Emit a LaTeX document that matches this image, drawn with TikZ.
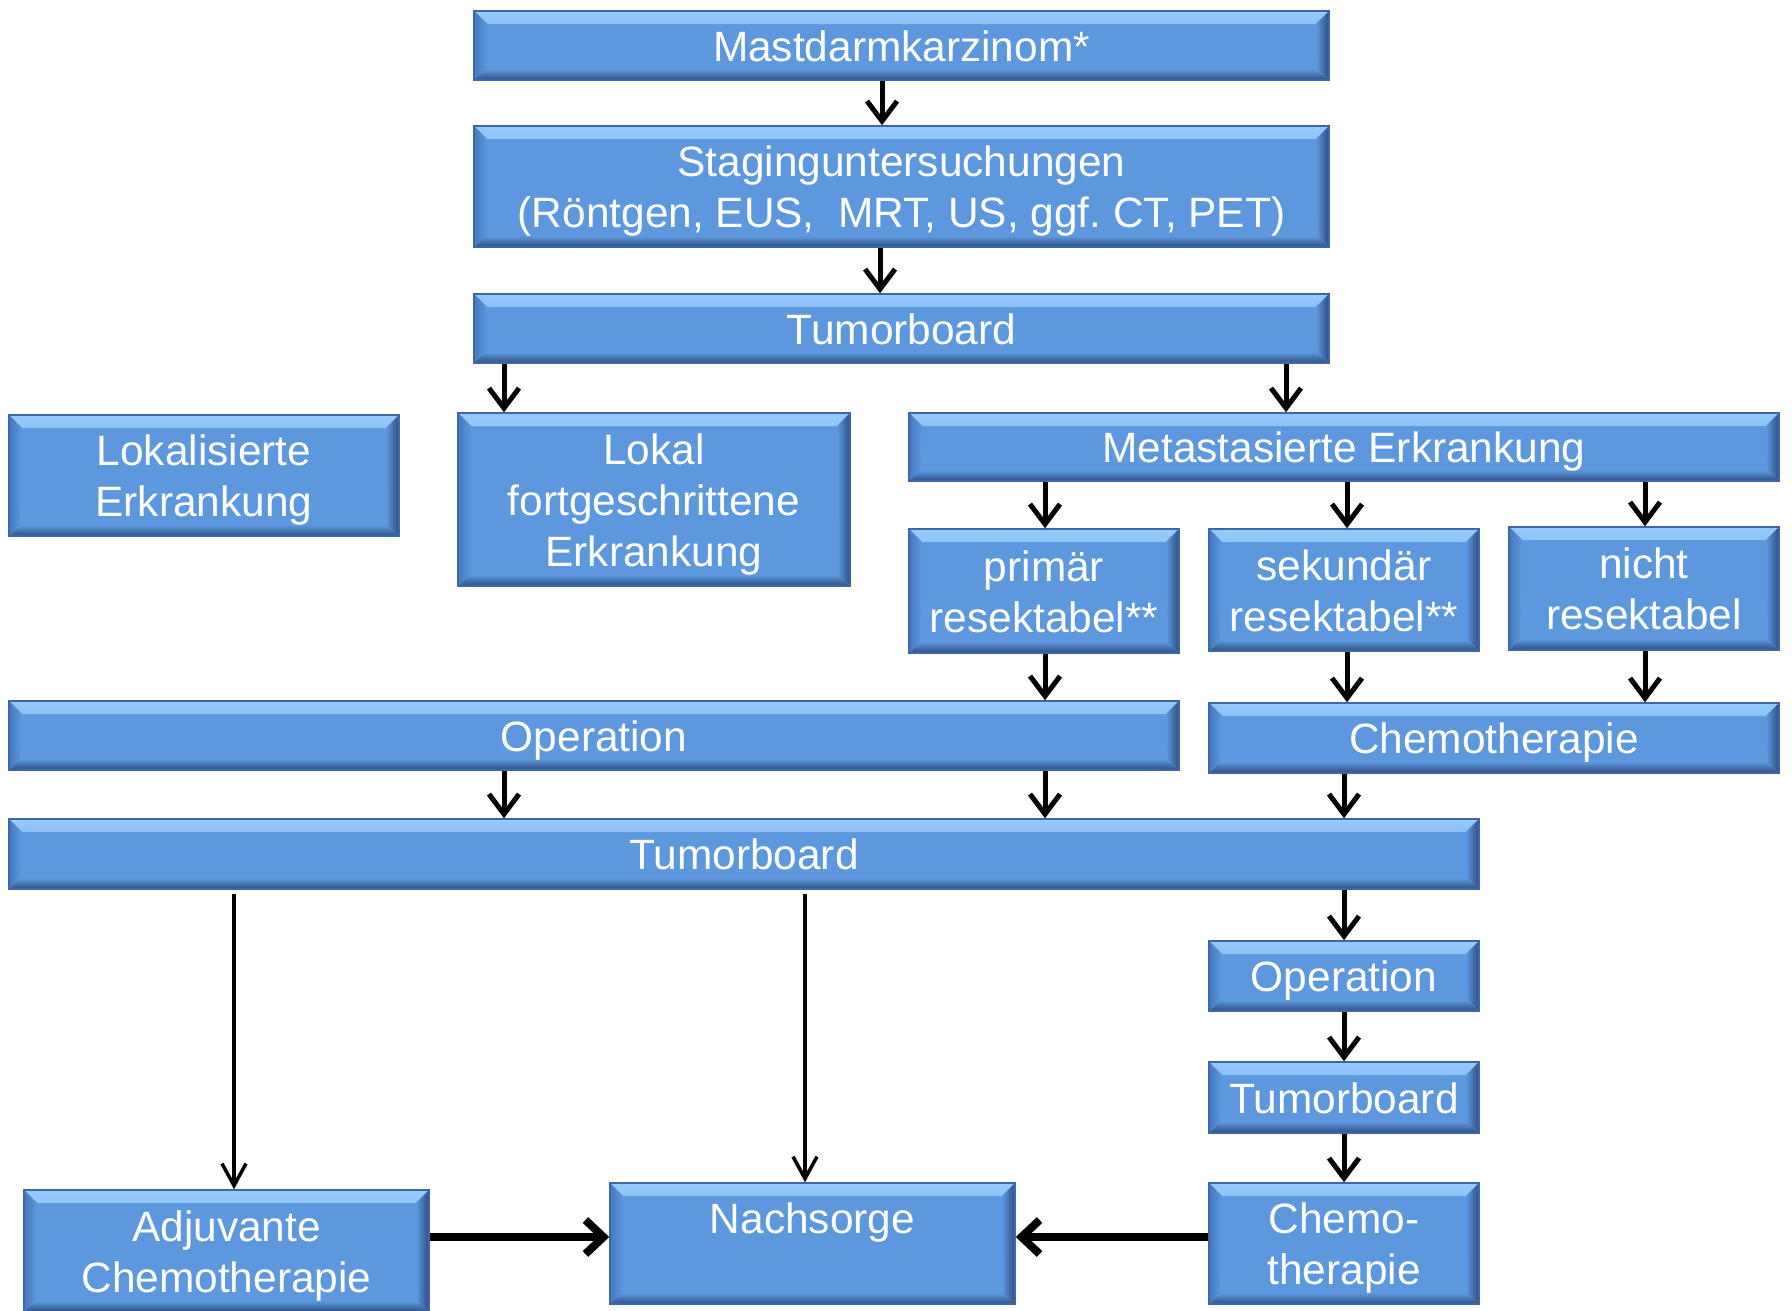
\documentclass[tikz,border=0pt]{standalone}
\usepackage{fontspec}
\setmainfont{Liberation Sans}
\usepackage{tikz}
\usetikzlibrary{arrows.meta}
\frenchspacing

\definecolor{boxblue}{RGB}{93,152,222}
\definecolor{bevlight}{RGB}{150,202,252}
\definecolor{bevside}{RGB}{70,120,190}
\definecolor{bevdark}{RGB}{45,78,130}
\definecolor{boxedge}{RGB}{62,104,165}

% gleiche Zeilenhoehe fuer alle Kaesten
\newcommand{\zs}{\rule[-9pt]{0pt}{49pt}}

\begin{document}
\begin{tikzpicture}[x=1pt, y=-1pt,
    kasten/.style={draw=boxedge, line width=1.5pt, fill=boxblue, text=white,
        inner sep=0pt, align=center, font=\fontsize{42.4}{51}\selectfont,
        path picture={
            \fill[top color=bevlight, bottom color=boxblue]
                (path picture bounding box.north west) -- (path picture bounding box.north east)
                -- ([xshift=-13pt,yshift=-13pt]path picture bounding box.north east)
                -- ([xshift=13pt,yshift=-13pt]path picture bounding box.north west) -- cycle;
            \fill[top color=boxblue, bottom color=bevdark]
                (path picture bounding box.south west) -- (path picture bounding box.south east)
                -- ([xshift=-11pt,yshift=11pt]path picture bounding box.south east)
                -- ([xshift=11pt,yshift=11pt]path picture bounding box.south west) -- cycle;
            \fill[left color=bevside, right color=boxblue]
                (path picture bounding box.north west) -- ([xshift=13pt,yshift=-13pt]path picture bounding box.north west)
                -- ([xshift=11pt,yshift=11pt]path picture bounding box.south west)
                -- (path picture bounding box.south west) -- cycle;
            \fill[left color=boxblue, right color=bevdark]
                (path picture bounding box.north east) -- ([xshift=-13pt,yshift=-13pt]path picture bounding box.north east)
                -- ([xshift=-11pt,yshift=11pt]path picture bounding box.south east)
                -- (path picture bounding box.south east) -- cycle;
        }},
    pfeil/.style={line width=5pt, -{Straight Barb[length=20pt, width=30pt]}},
    langpfeil/.style={line width=3.5pt, -{Straight Barb[length=22pt, width=24pt]}},
    querpfeil/.style={line width=8pt, -{Straight Barb[length=18pt, width=34pt]}}]
    \useasboundingbox (0, 0) rectangle (1792, 1310);

    % obere Reihe
    \node[kasten, minimum width=855pt, minimum height=69pt] (mastdarm) at (901.5, 45.5) {\zs Mastdarmkarzinom*\zs};
    \node[kasten, minimum width=855pt, minimum height=121pt] (staging) at (901.5, 186.5) {\zs Staginguntersuchungen\\(Röntgen, EUS,\ \ MRT, US, ggf. CT, PET)\zs};
    \node[kasten, minimum width=855pt, minimum height=69pt] (tbA) at (901.5, 328.5) {\zs Tumorboard\zs};

    % Stadien
    \node[kasten, minimum width=390pt, minimum height=121pt] (lokalis) at (204, 475.5) {\zs Lokalisierte\\Erkrankung\zs};
    \node[kasten, minimum width=392pt, minimum height=173pt] (lokalfort) at (654, 499.5) {\zs Lokal\\fortgeschrittene\\Erkrankung\zs};
    \node[kasten, minimum width=870pt, minimum height=68pt] (metast) at (1344, 447) {\zs Metastasierte Erkrankung\zs};
    \node[kasten, minimum width=270pt, minimum height=124pt] (primaer) at (1044, 591) {\zs primär\\resektabel**\zs};
    \node[kasten, minimum width=270pt, minimum height=122pt] (sekundaer) at (1344, 590) {\zs sekundär\\resektabel**\zs};
    \node[kasten, minimum width=270pt, minimum height=123pt] (nicht) at (1644, 588.5) {\zs nicht\\resektabel\zs};

    % Therapie
    \node[kasten, minimum width=1170pt, minimum height=69pt] (opA) at (594, 735.5) {\zs Operation\zs};
    \node[kasten, minimum width=570pt, minimum height=70pt] (chemoA) at (1494, 738) {\zs Chemotherapie\zs};
    \node[kasten, minimum width=1470pt, minimum height=70pt] (tbB) at (744, 854) {\zs Tumorboard\zs};
    \node[kasten, minimum width=270pt, minimum height=70pt] (opB) at (1344, 976) {\zs Operation\zs};
    \node[kasten, minimum width=270pt, minimum height=71pt] (tbC) at (1344, 1097.5) {\zs Tumorboard\zs};

    % untere Reihe
    \node[kasten, minimum width=405pt, minimum height=122pt] (adjuv) at (226.5, 1251) {\zs Adjuvante\\Chemotherapie\zs};
    \node[kasten, minimum width=405pt, minimum height=121pt] (nachsorge) at (812.5, 1243.5) {\zs Nachsorge\\\zs};
    \node[kasten, minimum width=270pt, minimum height=121pt] (chemoB) at (1344, 1243.5) {\zs Chemo-\\therapie\zs};

    \draw[pfeil] (882,0 |- mastdarm.south) -- (882,0 |- staging.north);
    \draw[pfeil] (880,0 |- staging.south) -- (880,0 |- tbA.north);
    \draw[pfeil] (504,0 |- tbA.south) -- (504,0 |- lokalfort.north);
    \draw[pfeil] (1286,0 |- tbA.south) -- (1286,0 |- metast.north);
    \draw[pfeil] (1045,0 |- metast.south) -- (1045,0 |- primaer.north);
    \draw[pfeil] (1347,0 |- metast.south) -- (1347,0 |- sekundaer.north);
    \draw[pfeil] (1645,0 |- metast.south) -- (1645,0 |- nicht.north);
    \draw[pfeil] (1045,0 |- primaer.south) -- (1045,0 |- opA.north);
    \draw[pfeil] (1347,0 |- sekundaer.south) -- (1347,0 |- chemoA.north);
    \draw[pfeil] (1645,0 |- nicht.south) -- (1645,0 |- chemoA.north);
    \draw[pfeil] (504,0 |- opA.south) -- (504,0 |- tbB.north);
    \draw[pfeil] (1045,0 |- opA.south) -- (1045,0 |- tbB.north);
    \draw[pfeil] (opB.north |- chemoA.south) -- (opB.north |- tbB.north);
    \draw[pfeil] (opB.north |- tbB.south) -- (opB.north);
    \draw[pfeil] (opB.south) -- (tbC.north);
    \draw[pfeil] (tbC.south) -- (chemoB.north);
    \draw[langpfeil] ([yshift=-4pt]234,0 |- tbB.south) -- (234,0 |- adjuv.north);
    \draw[langpfeil] ([yshift=-4pt]805,0 |- tbB.south) -- (805,0 |- nachsorge.north);
    \draw[querpfeil] (adjuv.east |- 0,1237) -- (nachsorge.west |- 0,1237);
    \draw[querpfeil] (chemoB.west |- 0,1237) -- (nachsorge.east |- 0,1237);
\end{tikzpicture}
\end{document}
